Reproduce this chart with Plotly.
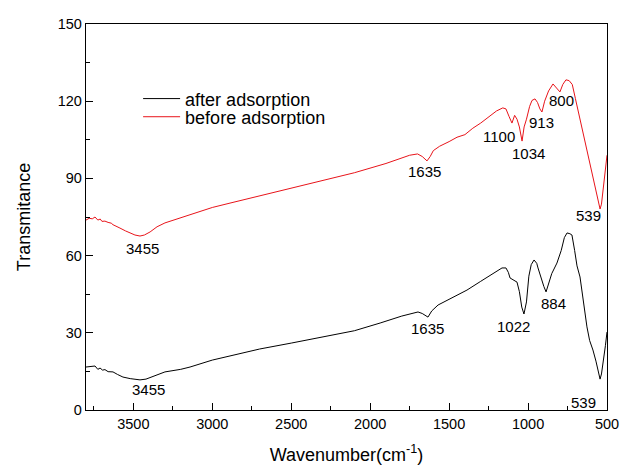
import plotly.graph_objects as go

# before adsorption (red)
before_x = [3800, 3780, 3760, 3743, 3725, 3710, 3699, 3680, 3660, 3640, 3629, 3600, 3585, 3550, 3521, 3490,
            3458, 3430, 3394, 3350, 3300, 3200, 3141, 3000, 2888, 2700, 2500, 2300, 2100, 1900, 1750, 1700,
            1670, 1640, 1620, 1600, 1560, 1500, 1450, 1400, 1350, 1300, 1250, 1200, 1160, 1140, 1120, 1102,
            1085, 1070, 1055, 1038, 1025, 1010, 990, 975, 956, 940, 925, 912, 895, 870, 842, 820, 798, 780,
            760, 740, 720, 700, 684, 660, 640, 627, 610, 589, 570, 555, 544, 535, 520, 510, 500]
before_y = [73.8, 74.5, 74.3, 75.0, 73.8, 74.2, 73.3, 73.4, 72.9, 72.6, 72.0, 71.3, 70.7, 69.6, 68.8, 68.0,
            67.6, 68.0, 69.2, 71.2, 72.7, 74.6, 75.8, 78.7, 80.4, 83.2, 86.0, 89.0, 92.2, 95.8, 99.0, 99.5,
            98.5, 96.8, 98.5, 100.8, 102.5, 104.3, 106.0, 107.0, 109.5, 111.5, 114.0, 116.2, 117.4, 117.0, 114.0, 111.5,
            114.5, 113.0, 110.0, 104.5, 110.0, 113.0, 118.0, 120.3, 120.9, 119.5, 117.0, 115.8, 120.0, 124.0, 126.7, 125.0, 123.6, 126.5,
            128.3, 128.0, 126.5, 121.0, 116.6, 109.0, 103.5, 99.9, 95.5, 90.6, 85.5, 80.5, 78.1, 80.0, 88.0, 94.0, 99.0]

# after adsorption (black)
after_x = [3800, 3780, 3760, 3743, 3725, 3711, 3695, 3680, 3660, 3640, 3629, 3600, 3566, 3520, 3458, 3420,
           3380, 3340, 3300, 3200, 3141, 3000, 2888, 2700, 2500, 2300, 2100, 1937, 1800, 1697, 1670, 1634,
           1610, 1570, 1500, 1450, 1387, 1300, 1200, 1165, 1140, 1125, 1114, 1090, 1070, 1055, 1040, 1026,
           1010, 995, 980, 962, 945, 937, 915, 900, 886, 870, 850, 817, 790, 770, 753, 735, 722, 705,
           690, 671, 650, 627, 610, 589, 570, 555, 544, 535, 520, 510, 500]
after_y = [16.7, 16.8, 16.8, 17.1, 15.8, 16.3, 15.5, 15.7, 14.9, 14.9, 14.8, 13.8, 12.8, 12.2, 11.7, 12.0,
           13.0, 14.0, 14.8, 15.8, 16.7, 19.4, 21.0, 23.7, 26.0, 28.3, 30.8, 33.8, 36.5, 38.1, 37.5, 36.1,
           38.5, 40.8, 43.0, 44.6, 46.6, 50.0, 53.8, 55.2, 55.2, 53.5, 51.3, 50.5, 49.7, 46.0, 40.0, 37.3,
           42.0, 52.0, 56.5, 58.3, 57.0, 55.2, 50.5, 48.0, 45.9, 49.0, 53.0, 57.1, 62.0, 67.0, 68.8, 68.5, 68.0, 62.0,
           56.0, 51.7, 42.0, 32.3, 27.0, 23.3, 19.0, 14.5, 12.0, 14.0, 20.0, 25.0, 30.3]

# peak labels: (text, x, y)
before_labels = [("3455", 3439, 62.6), ("1635", 1653, 92.5), ("1100", 1184, 106.1), ("1034", 1000, 99.5),
                 ("913", 918, 111.9), ("800", 791, 120.1), ("539", 620, 75.4)]
after_labels = [("3455", 3407, 7.8), ("1635", 1640, 31.5), ("1022", 1095, 32.3), ("884", 842, 41.2),
                ("539", 652, 3.1)]

font_family = "Liberation Sans, Arial, sans-serif"

fig = go.Figure()
fig.add_trace(go.Scatter(x=after_x, y=after_y, mode="lines", name="after adsorption",
                         line=dict(color="black", width=1), legend="legend"))
fig.add_trace(go.Scatter(x=before_x, y=before_y, mode="lines", name="before adsorption",
                         line=dict(color="#e8141a", width=1), legend="legend2"))

for t, x, y in before_labels + after_labels:
    fig.add_annotation(x=x, y=y, text=t, showarrow=False, xref="x", yref="y",
                       font=dict(size=15, color="black", family=font_family))

leg_common = dict(xanchor="left", yanchor="middle", bgcolor="rgba(0,0,0,0)",
                  font=dict(size=18), itemwidth=37, borderwidth=0)
fig.update_layout(
    width=620, height=465,
    margin=dict(l=86, r=13, t=24, b=55),
    paper_bgcolor="white", plot_bgcolor="white",
    font=dict(family=font_family, color="black", size=14),
    showlegend=True,
    legend=dict(x=0.1, y=0.806, **leg_common),
    legend2=dict(x=0.1, y=0.759, **leg_common),
)
fig.update_xaxes(
    range=[3800, 500], autorange=False, automargin=False,
    tickvals=[3500, 3000, 2500, 2000, 1500, 1000, 500],
    ticks="inside", ticklen=7, tickwidth=1.2, tickcolor="black",
    minor=dict(tickvals=[3750, 3250, 2750, 2250, 1750, 1250, 750], ticks="inside", ticklen=4, tickcolor="black", tickwidth=1.2),
    showline=True, linecolor="black", linewidth=1.3, mirror=True,
    showgrid=False, zeroline=False,
    tickfont=dict(size=14.5),
    title=dict(text="Wavenumber(cm<sup>-1</sup>)", font=dict(size=18), standoff=22),
)
fig.update_yaxes(
    range=[0, 150], autorange=False, automargin=False,
    tickvals=[0, 30, 60, 90, 120, 150],
    ticks="inside", ticklen=7, tickwidth=1.2, tickcolor="black",
    minor=dict(tickvals=[15, 45, 75, 105, 135], ticks="inside", ticklen=4, tickcolor="black", tickwidth=1.2),
    showline=True, linecolor="black", linewidth=1.3, mirror=True,
    showgrid=False, zeroline=False,
    tickfont=dict(size=14.5),
    title=dict(text="Transmitance", font=dict(size=18), standoff=22),
)

fig.write_html("out.html")
